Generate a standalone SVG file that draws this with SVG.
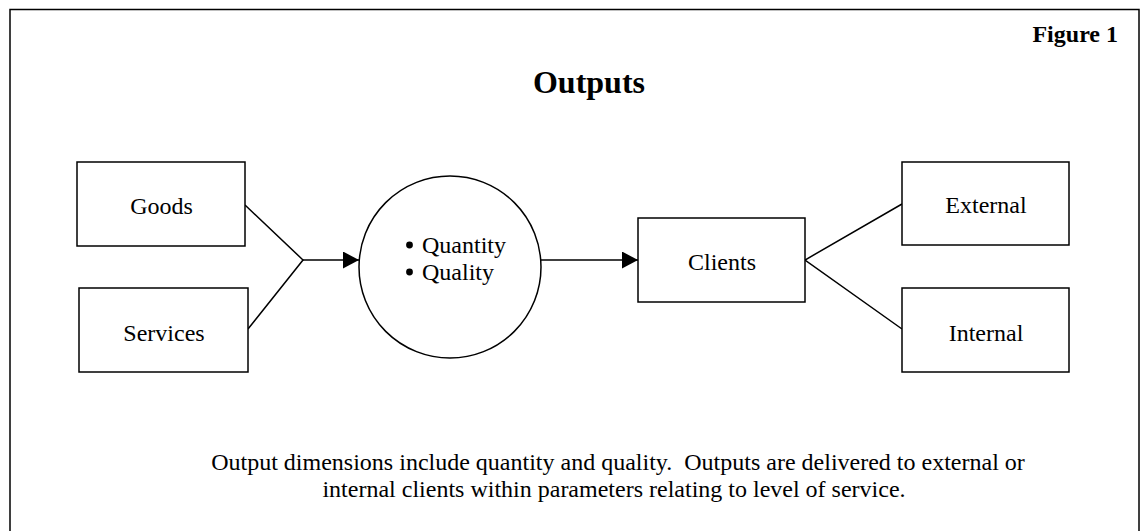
<svg xmlns="http://www.w3.org/2000/svg" width="1145" height="531" viewBox="0 0 1145 531">
  <style>
    .box { fill: #fff; stroke: #000; stroke-width: 1.5; }
    .line { fill: none; stroke: #000; stroke-width: 1.5; }
    .lbl { font-family: "Liberation Serif", "Times New Roman", serif; font-size: 24px; fill: #000; }
    .mid { text-anchor: middle; }
    .bold { font-weight: bold; }
  </style>
  <defs>
    <marker id="arrow" viewBox="0 0 16 17" refX="16" refY="8.5" markerWidth="16" markerHeight="17" markerUnits="userSpaceOnUse" orient="auto">
      <path d="M0,0 L16,8.5 L0,17 Z" fill="#000"/>
    </marker>
  </defs>

  <!-- outer frame, open at the bottom edge of the page -->
  <rect x="10" y="9.5" width="1129" height="530" fill="#fff" stroke="#000" stroke-width="1.5"/>

  <text class="lbl bold" x="1118" y="42" text-anchor="end">Figure 1</text>
  <text class="lbl bold mid" x="589" y="93" style="font-size:32px">Outputs</text>

  <g id="connectors">
    <polyline class="line" points="245,205 303,260 248,329"/>
    <line class="line" x1="303" y1="260" x2="359" y2="260" marker-end="url(#arrow)"/>
    <line class="line" x1="541" y1="260" x2="638" y2="260" marker-end="url(#arrow)"/>
    <polyline class="line" points="902,204 805,260 902,329"/>
  </g>

  <g id="goods">
    <rect class="box" x="77" y="162" width="168" height="84"/>
    <text class="lbl mid" x="161.5" y="214">Goods</text>
  </g>

  <g id="services">
    <rect class="box" x="79" y="288" width="169" height="84"/>
    <text class="lbl mid" x="164" y="341">Services</text>
  </g>

  <g id="dimensions">
    <circle class="box" cx="450" cy="267" r="91"/>
    <!-- list bullets -->
    <circle cx="409.5" cy="245" r="3.4" fill="#000"/>
    <circle cx="409.5" cy="272" r="3.4" fill="#000"/>
    <text class="lbl"><tspan x="422" y="253">Quantity</tspan><tspan x="422" y="280">Quality</tspan></text>
  </g>

  <g id="clients">
    <rect class="box" x="638" y="218" width="167" height="84"/>
    <text class="lbl mid" x="722" y="270">Clients</text>
  </g>

  <g id="external">
    <rect class="box" x="902" y="162" width="167" height="83"/>
    <text class="lbl mid" x="986" y="213">External</text>
  </g>

  <g id="internal">
    <rect class="box" x="902" y="288" width="167" height="84"/>
    <text class="lbl mid" x="986" y="341">Internal</text>
  </g>

  <text class="lbl mid" xml:space="preserve"><tspan x="618" y="470">Output dimensions include quantity and quality.  Outputs are delivered to external or</tspan><tspan x="614" y="497">internal clients within parameters relating to level of service.</tspan></text>
</svg>
